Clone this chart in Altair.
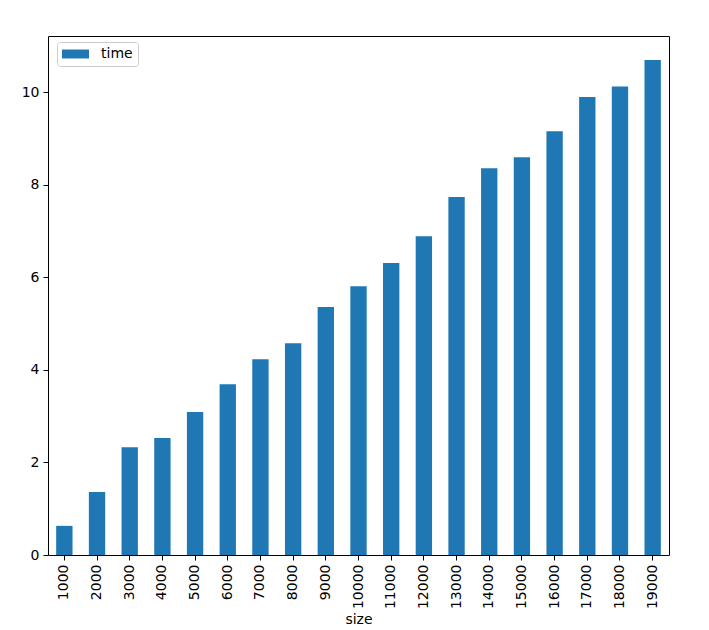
import altair as alt
import pandas as pd

sizes = [1000, 2000, 3000, 4000, 5000, 6000, 7000, 8000, 9000, 10000,
         11000, 12000, 13000, 14000, 15000, 16000, 17000, 18000, 19000]
times = [0.63, 1.36, 2.33, 2.53, 3.09, 3.69, 4.23, 4.58, 5.36, 5.81,
         6.31, 6.89, 7.74, 8.36, 8.60, 9.16, 9.90, 10.13, 10.70]
series = ["time"] * len(sizes)

df = pd.DataFrame({"size": [str(s) for s in sizes], "time": times, "series": series})

FONT = "DejaVu Sans"
BLUE = "#1f77b4"
FS = 14

chart = alt.Chart(df).mark_bar(color=BLUE).encode(
    x=alt.X("size:N", sort=[str(s) for s in sizes],
            scale=alt.Scale(paddingInner=0.5, paddingOuter=0.25),
            axis=alt.Axis(title="size", labelAngle=270, labelAlign="right",
                          labelBaseline="middle", labelFontSize=FS, titleFontSize=FS,
                          labelFont=FONT, titleFont=FONT,
                          tickSize=5, labelPadding=4, titlePadding=4,
                          domain=False, tickColor="black", labelColor="black",
                          titleColor="black", titleFontWeight="normal")),
    y=alt.Y("time:Q", scale=alt.Scale(domain=[0, 11.22], nice=False),
            axis=alt.Axis(title=None, values=[0, 2, 4, 6, 8, 10], labelFontSize=FS,
                          labelFont=FONT,
                          tickSize=5, labelPadding=4, domain=False, grid=False,
                          tickColor="black", labelColor="black")),
    fill=alt.Fill("series:N", scale=alt.Scale(range=[BLUE]),
                  legend=alt.Legend(title=None, orient="none", legendX=9, legendY=6,
                                    symbolType="M-1,-0.64L2.86,-0.64L2.86,0.64L-1,0.64Z",
                                    symbolSize=196, symbolStrokeWidth=0,
                                    labelFontSize=FS, labelFont=FONT, labelColor="black",
                                    strokeColor="#cccccc", fillColor="white",
                                    cornerRadius=3, padding=5, labelOffset=25)),
).properties(
    width=621, height=519,
    autosize=alt.AutoSizeParams(type="none"),
    padding={"left": 40, "top": 28, "right": 32, "bottom": 80},
).configure(
    font=FONT
).configure_view(
    stroke="black", strokeWidth=1
)

chart.save("out.html", embed_options={"renderer": "svg", "actions": False})
